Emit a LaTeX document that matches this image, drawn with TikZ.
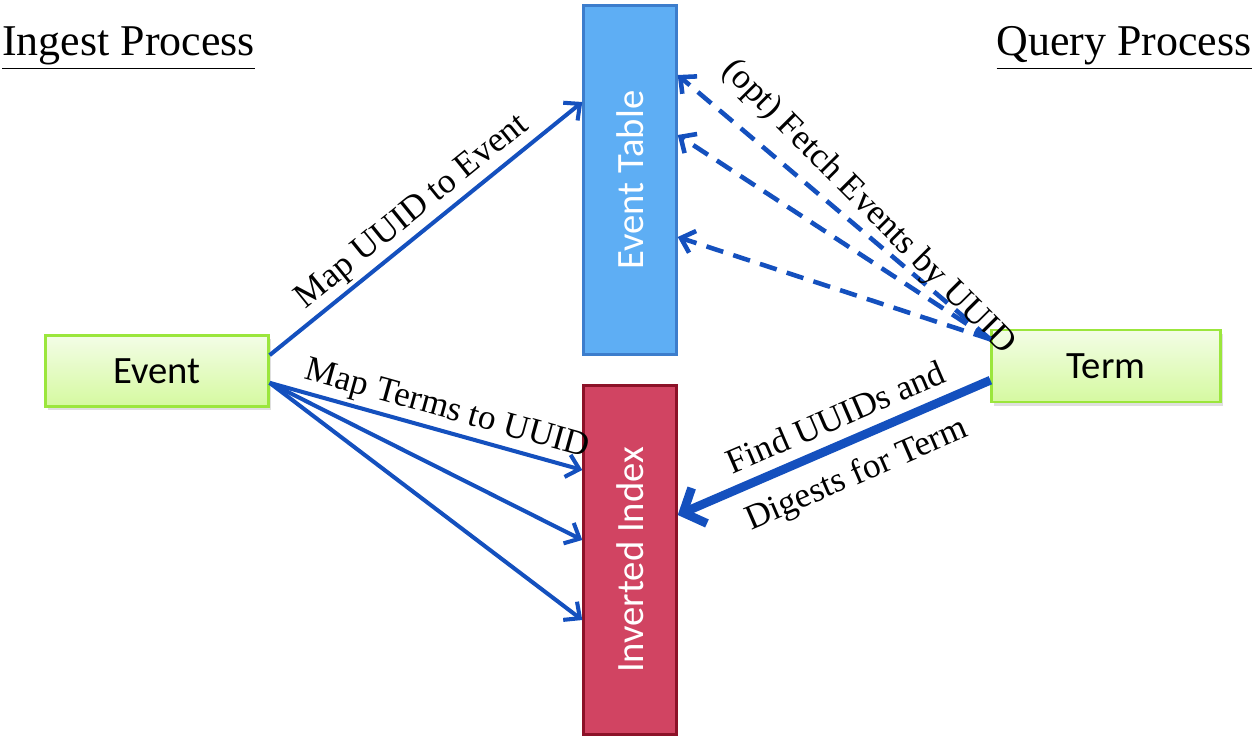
\documentclass[tikz,border=0pt]{standalone}
\usepackage{fontspec}
\setmainfont{Liberation Serif}
\newfontfamily\boxfont{Carlito}
\usetikzlibrary{arrows.meta, shadows}

\definecolor{linkblue}{HTML}{1450BE}
\definecolor{skyfill}{HTML}{5EAEF4}
\definecolor{skyline}{HTML}{3C7DCC}
\definecolor{rosefill}{HTML}{D14462}
\definecolor{roseline}{HTML}{8C1228}
\definecolor{leafline}{HTML}{9BE63C}
\definecolor{leaftop}{HTML}{F3FDE6}
\definecolor{leafbot}{HTML}{D5F9A0}

\tikzset{
  tallbox/.style={draw, line width=1.7pt, rotate=90, minimum width=7.0cm,
    minimum height=1.85cm, inner sep=0pt, text=white,
    font=\boxfont\fontsize{22}{26}\selectfont},
  keybox/.style={draw=leafline, line width=1.6pt, top color=leaftop,
    bottom color=leafbot, inner sep=0pt,
    font=\boxfont\fontsize{22}{26}\selectfont,
    drop shadow={opacity=0.25, shadow xshift=1.5pt, shadow yshift=-2pt}},
  link/.style={draw=linkblue, line width=2.3pt,
    -{Straight Barb[length=7pt, width=13pt]}},
  fetch/.style={link, line width=2.6pt, dash pattern=on 10pt off 6pt},
  lookup/.style={link, line width=5pt,
    -{Straight Barb[length=10pt, width=22pt]}},
  lbl/.style={font=\fontsize{20}{24}\selectfont, sloped, inner sep=2pt},
  heading/.style={font=\fontsize{25}{30}\selectfont, inner sep=0pt}
}

\begin{document}
\begin{tikzpicture}[x=0.02cm, y=-0.02cm]
  \useasboundingbox (0,0) rectangle (1254,740);

  \node[heading, anchor=base west] (ingest) at (2,56) {\underline{Ingest Process}};
  \node[heading, anchor=base east] (query) at (1252,56) {\underline{Query Process}};

  \node[tallbox, fill=skyfill, draw=skyline] (evtable) at (630,180) {Event Table};
  \node[tallbox, fill=rosefill, draw=roseline] (invidx) at (630,560) {Inverted Index};

  \node[keybox, minimum width=4.45cm, minimum height=1.42cm] (event) at (157,371) {Event};
  \node[keybox, minimum width=4.57cm, minimum height=1.44cm] (term) at (1106,366) {Term};

  % ingest side
  \draw[link] (event.8) -- (evtable.north |- 0,102)
    node[lbl, pos=0.5, above] {Map UUID to Event};
  \draw[link] (event.-6) -- (invidx.north |- 0,470)
    node[lbl, pos=0.55, above] {Map Terms to UUID};
  \draw[link] (event.-6) -- (invidx.north |- 0,540);
  \draw[link] (event.-6) -- (invidx.north |- 0,620);

  % query side
  \draw[fetch] (term.167) -- (evtable.south |- 0,75)
    node[lbl, pos=0.44, above, rotate=-5] {(opt) Fetch Events by UUID};
  \draw[fetch] (term.167) -- (evtable.south |- 0,135);
  \draw[fetch] (term.167) -- (evtable.south |- 0,237);
  \draw[lookup] (term.187) -- (invidx.south |- 0,515)
    node[lbl, pos=0.46, above=4pt] {Find UUIDs and}
    node[lbl, pos=0.47, below=6pt] {Digests for Term};
\end{tikzpicture}
\end{document}
